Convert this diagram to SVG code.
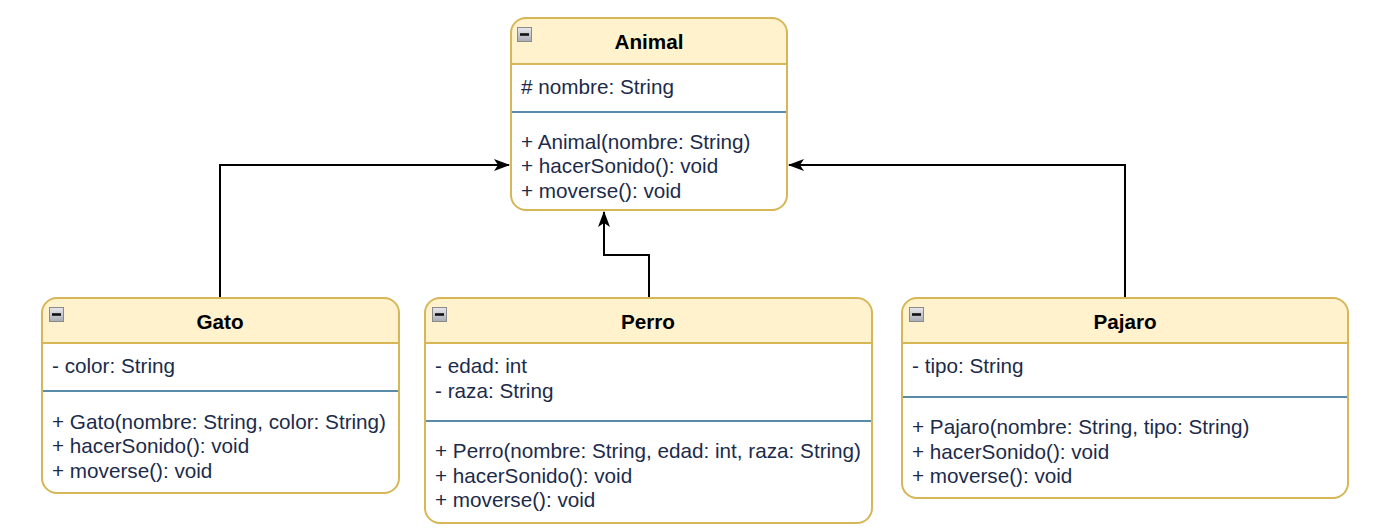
<svg xmlns="http://www.w3.org/2000/svg" width="1380" height="531" viewBox="0 0 1380 531">
<style>
.box{fill:#ffffff;stroke:#d6b656;stroke-width:2}
.hdr{fill:#fff2cc;stroke:none}
.hl{stroke:#d6b656;stroke-width:2}
.div{stroke:#5a8aaa;stroke-width:2}
.t{font-family:"Liberation Sans",Arial,sans-serif;font-size:20.7px;fill:#1c2b4a}
.title{font-family:"Liberation Sans",Arial,sans-serif;font-size:20.7px;font-weight:bold;fill:#000000;text-anchor:middle}
.icon{fill:url(#ig);stroke:#8a8a8a;stroke-width:1}
.conn{fill:none;stroke:#000000;stroke-width:2}
</style>
<defs>
<linearGradient id="ig" x1="0" y1="0" x2="0" y2="1">
<stop offset="0" stop-color="#e8e8ec"/>
<stop offset="1" stop-color="#a8abb4"/>
</linearGradient>
<marker id="arr" viewBox="0 0 16 12" refX="15" refY="6" markerWidth="16" markerHeight="12" markerUnits="userSpaceOnUse" orient="auto">
<path d="M0,0 L16,6 L0,12 L4,6 Z" fill="#000000"/>
</marker>
<g id="minus">
<rect class="icon" x="0.5" y="0.5" width="14" height="14"/>
<rect x="3" y="6.2" width="9" height="2.6" fill="#111111"/>
</g>
</defs>

<g id="connectors">
<path class="conn" d="M220,298 V165 H509" marker-end="url(#arr)"/>
<path class="conn" d="M1125,298 V165 H789" marker-end="url(#arr)"/>
<path class="conn" d="M649,298 V255 H604 V212" marker-end="url(#arr)"/>
</g>

<g id="animal">
<path class="hdr" d="M526,19 H772 A14,14 0 0 1 786,33 V64 H512 V33 A14,14 0 0 1 526,19 Z"/>
<rect class="box" x="511" y="18" width="276" height="192" rx="15" style="fill:none"/>
<line class="hl" x1="511" y1="64" x2="787" y2="64"/>
<line class="div" x1="512" y1="112" x2="786" y2="112"/>
<use href="#minus" x="517" y="27"/>
<text class="title" x="649" y="49">Animal</text>
<text class="t" x="521" y="94"># nombre: String</text>
<text class="t" x="521" y="149">+ Animal(nombre: String)</text>
<text class="t" x="521" y="173">+ hacerSonido(): void</text>
<text class="t" x="521" y="198">+ moverse(): void</text>
</g>

<g id="gato">
<path class="hdr" d="M57,299 H384 A14,14 0 0 1 398,313 V343 H43 V313 A14,14 0 0 1 57,299 Z"/>
<rect class="box" x="42" y="298" width="357" height="195" rx="15" style="fill:none"/>
<line class="hl" x1="42" y1="343" x2="399" y2="343"/>
<line class="div" x1="43" y1="391" x2="398" y2="391"/>
<use href="#minus" x="49" y="307"/>
<text class="title" x="220" y="329">Gato</text>
<text class="t" x="52" y="373">- color: String</text>
<text class="t" x="52" y="429">+ Gato(nombre: String, color: String)</text>
<text class="t" x="52" y="453">+ hacerSonido(): void</text>
<text class="t" x="52" y="478">+ moverse(): void</text>
</g>

<g id="perro">
<path class="hdr" d="M440,299 H857 A14,14 0 0 1 871,313 V343 H426 V313 A14,14 0 0 1 440,299 Z"/>
<rect class="box" x="425" y="298" width="447" height="225" rx="15" style="fill:none"/>
<line class="hl" x1="425" y1="343" x2="872" y2="343"/>
<line class="div" x1="426" y1="421" x2="871" y2="421"/>
<use href="#minus" x="432" y="307"/>
<text class="title" x="648" y="329">Perro</text>
<text class="t" x="435" y="373">- edad: int</text>
<text class="t" x="435" y="398">- raza: String</text>
<text class="t" x="435" y="458">+ Perro(nombre: String, edad: int, raza: String)</text>
<text class="t" x="435" y="483">+ hacerSonido(): void</text>
<text class="t" x="435" y="507">+ moverse(): void</text>
</g>

<g id="pajaro">
<path class="hdr" d="M917,299 H1333 A14,14 0 0 1 1347,313 V343 H903 V313 A14,14 0 0 1 917,299 Z"/>
<rect class="box" x="902" y="298" width="446" height="200" rx="15" style="fill:none"/>
<line class="hl" x1="902" y1="343" x2="1348" y2="343"/>
<line class="div" x1="903" y1="397" x2="1347" y2="397"/>
<use href="#minus" x="909" y="307"/>
<text class="title" x="1125" y="329">Pajaro</text>
<text class="t" x="912" y="373">- tipo: String</text>
<text class="t" x="912" y="434">+ Pajaro(nombre: String, tipo: String)</text>
<text class="t" x="912" y="459">+ hacerSonido(): void</text>
<text class="t" x="912" y="483">+ moverse(): void</text>
</g>
</svg>
